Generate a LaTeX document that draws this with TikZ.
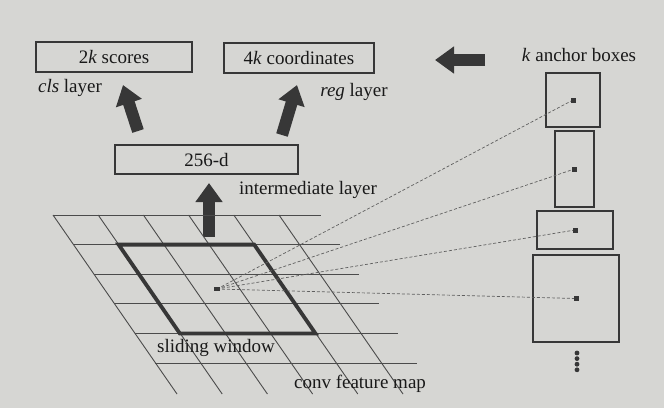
\documentclass[tikz,border=0pt]{standalone}
\usepackage{fontspec}
\setmainfont{Liberation Serif}
\usetikzlibrary{arrows.meta}

\definecolor{paper}{RGB}{214,214,211}
\definecolor{ink}{RGB}{55,55,55}

\begin{document}
\begin{tikzpicture}[x=1pt,y=-1pt,
    lbl/.style={font=\fontsize{19}{22}\selectfont, text=black!90, inner sep=0pt},
    layerbox/.style={draw=ink, line width=1.4pt, lbl},
    anchorbox/.style={draw=ink, line width=1.3pt, inner sep=0pt},
    bigarrow/.style={draw=ink, line width=12pt, -{Triangle[length=19pt,width=26pt]}},
    gridline/.style={draw=ink!90, line width=0.9pt},
    ray/.style={draw=ink!80, line width=0.7pt, dash pattern=on 3pt off 2pt},
    centre/.style={fill=ink, inner sep=0pt, minimum size=5pt}]
    \fill[paper] (0,0) rectangle (664,408);
    \useasboundingbox (0,0) rectangle (664,408);

    % Output layers
    \node[layerbox, minimum width=156pt, minimum height=30pt] (scores) at (114,57) {2\textit{k} scores};
    \node[layerbox, minimum width=150pt, minimum height=30pt] (coords) at (299,58) {4\textit{k} coordinates};
    \node[lbl] (clslbl) at (70,88) {\textit{cls} layer};
    \node[lbl] (reglbl) at (354,92) {\textit{reg} layer};

    % Intermediate layer
    \node[layerbox, minimum width=183pt, minimum height=29pt] (inter) at (206.5,159.5) {256-d};
    \node[lbl] (interlbl) at (308,190) {intermediate layer};

    \coordinate (clsfrom) at (138,131);
    \coordinate (clsto) at (123,85);
    \coordinate (regfrom) at (282,135);
    \coordinate (regto) at (297,85);
    \coordinate (midfrom) at (209,237);
    \coordinate (midto) at (209,183);
    \draw[bigarrow] (clsfrom) -- (clsto);
    \draw[bigarrow] (regfrom) -- (regto);
    \draw[bigarrow] (midfrom) -- (midto);

    % Feature map grid
    \foreach \j in {0,...,5}
      \draw[gridline] ({53+20.4*\j},{215+29.6*\j}) -- ({321+19.2*\j},{215+29.6*\j});
    \foreach \i in {0,...,5}
      \draw[gridline] ({53+45.2*\i},215) -- ({53+45.2*\i+124},394);

    % Sliding window
    \draw[ink, line width=3.8pt, line join=miter]
      ({53+45.2*1+20.4*1},{215+29.6*1}) -- ({53+45.2*4+20.4*1},{215+29.6*1})
      -- ({53+45.2*4+20.4*4},{215+29.6*4}) -- ({53+45.2*1+20.4*4},{215+29.6*4}) -- cycle;
    \coordinate (win) at (217,289);
    \node[lbl] (winlbl) at (216,348) {sliding window};
    \node[lbl] (maplbl) at (360,384) {conv feature map};

    % Anchor boxes
    \node[lbl] (anclbl) at (579,55) {\textit{k} anchor boxes};
    \node[anchorbox, minimum width=54pt, minimum height=54pt] (anc1) at (573,100) {};
    \node[anchorbox, minimum width=39pt, minimum height=76pt] (anc2) at (574.5,169) {};
    \node[anchorbox, minimum width=76pt, minimum height=38pt] (anc3) at (575,230) {};
    \node[anchorbox, minimum width=86pt, minimum height=87pt] (anc4) at (576,298.5) {};
    \foreach \a in {1,...,4} {
      \draw[ray] (win) -- (anc\a.center);
      \node[centre] (dot\a) at (anc\a.center) {};
    }
    \node[fill=ink, inner sep=0pt, minimum width=6pt, minimum height=4pt] (windot) at (win) {};
    \foreach \k in {0,...,3}
      \fill[ink] (577,{353+5.6*\k}) circle (2.4pt);

    \coordinate (anchfrom) at (485,60);
    \coordinate (anchto) at (435,60);
    \draw[bigarrow] (anchfrom) -- (anchto);
\end{tikzpicture}
\end{document}
